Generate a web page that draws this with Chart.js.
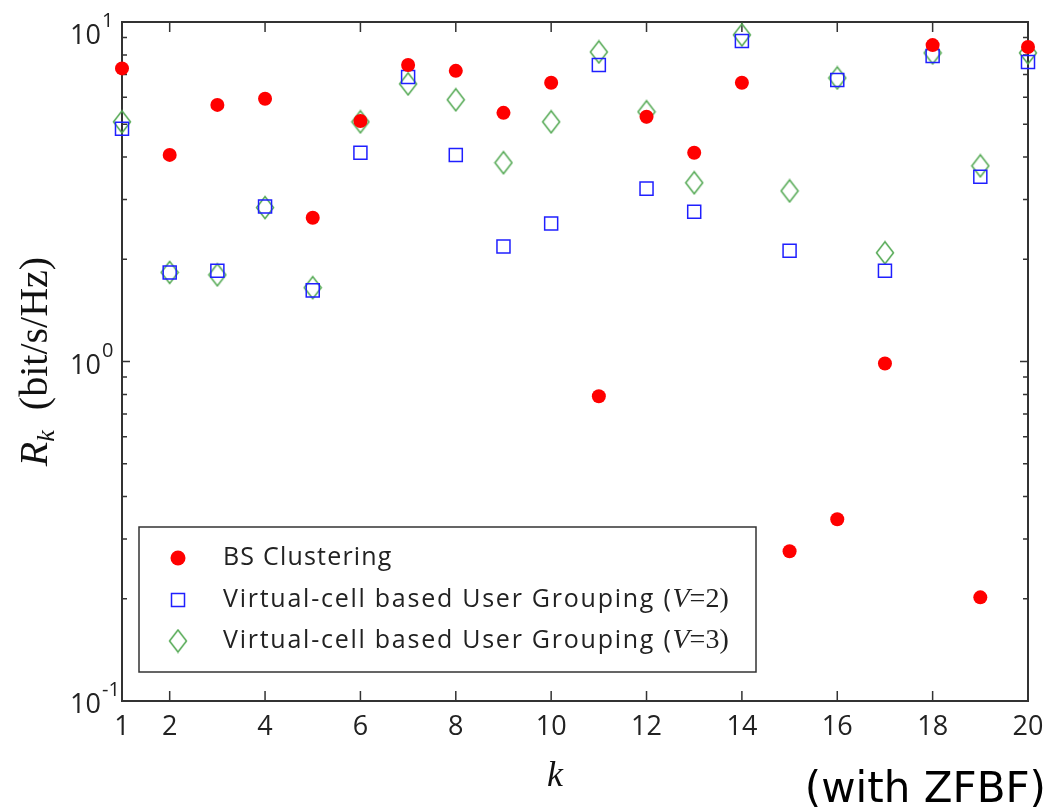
<!DOCTYPE html>
<html lang="en">
<head>
<meta charset="UTF-8">
<title>Rate per user (with ZFBF)</title>
<script src="https://cdn.jsdelivr.net/npm/chart.js"></script>
<style>
  body { margin: 0; background: #fff; }
  #wrap { width: 1062px; height: 812px; }
</style>
</head>
<body>
<div id="wrap"><canvas id="rateChart" width="1062" height="812"></canvas></div>
<script>
// user index k
const users = [1, 2, 3, 4, 5, 6, 7, 8, 9, 10, 11, 12, 13, 14, 15, 16, 17, 18, 19, 20];

// R_k (bit/s/Hz)
const bsClustering = [7.3, 4.06, 5.70, 5.94, 2.65, 5.11, 7.47, 7.18, 5.40, 6.62,
                      0.79, 5.26, 4.12, 6.62, 0.276, 0.343, 0.987, 8.55, 0.202, 8.44];
const virtualCellV2 = [4.85, 1.83, 1.85, 2.86, 1.62, 4.12, 6.89, 4.06, 2.18, 2.55,
                       7.47, 3.23, 2.76, 8.79, 2.12, 6.75, 1.85, 7.94, 3.50, 7.63];
const virtualCellV3 = [5.08, 1.83, 1.80, 2.84, 1.65, 5.08, 6.57, 5.90, 3.85, 5.08,
                       8.16, 5.44, 3.36, 9.16, 3.18, 6.84, 2.09, 8.11, 3.77, 8.11];

// axis ticks
const xTicks = [1, 2, 4, 6, 8, 10, 12, 14, 16, 18, 20];
const yMajorTicks = [0.1, 1, 10];
const yExponents = ['-1', '0', '1'];
const yMinorTicks = [0.2, 0.3, 0.4, 0.5, 0.6, 0.7, 0.8, 0.9, 2, 3, 4, 5, 6, 7, 8, 9];

const RED = '#ff0000', BLUE = '#1f1fff', GREEN = '#52a852', INK = '#333333';
const SANS = '"Open Sans", "DejaVu Sans", sans-serif';
const SERIF = '"Liberation Serif", "DejaVu Serif", serif';

// tall green diamond used as point style
function makeDiamond() {
  const c = document.createElement('canvas');
  c.width = 20; c.height = 25;
  const g = c.getContext('2d');
  g.strokeStyle = GREEN;
  g.lineWidth = 1.5;
  g.beginPath();
  g.moveTo(10, 1.5); g.lineTo(18.5, 12.5); g.lineTo(10, 23.5); g.lineTo(1.5, 12.5);
  g.closePath();
  g.stroke();
  return c;
}
const diamond = makeDiamond();

function pts(vals) {
  return users.map((k, i) => ({ x: k, y: vals[i] }));
}

// draw text pieces one after the other, returns end x
function runs(ctx, parts, x, y, measureOnly) {
  let cx = x;
  parts.forEach(p => {
    ctx.font = p.font;
    ctx.letterSpacing = p.spacing || '0px';
    if (!measureOnly) ctx.fillText(p.text, cx, y + (p.dy || 0));
    cx += ctx.measureText(p.text).width;
  });
  ctx.letterSpacing = '0px';
  return cx;
}

const axesPlugin = {
  id: 'axesPlugin',
  beforeDatasetsDraw(chart) {
    const { ctx, chartArea: a, scales: { x, y } } = chart;
    ctx.save();
    ctx.strokeStyle = INK;
    ctx.lineWidth = 2;
    ctx.strokeRect(a.left, a.top, a.right - a.left, a.bottom - a.top);

    ctx.lineWidth = 1.5;
    ctx.beginPath();
    xTicks.forEach(v => {
      const px = x.getPixelForValue(v);
      ctx.moveTo(px, a.bottom); ctx.lineTo(px, a.bottom - 10);
      ctx.moveTo(px, a.top); ctx.lineTo(px, a.top + 10);
    });
    yMajorTicks.forEach(v => {
      const py = y.getPixelForValue(v);
      ctx.moveTo(a.left, py); ctx.lineTo(a.left + 8, py);
      ctx.moveTo(a.right, py); ctx.lineTo(a.right - 8, py);
    });
    yMinorTicks.forEach(v => {
      const py = y.getPixelForValue(v);
      ctx.moveTo(a.left, py); ctx.lineTo(a.left + 5, py);
      ctx.moveTo(a.right, py); ctx.lineTo(a.right - 5, py);
    });
    ctx.stroke();

    // tick labels
    ctx.fillStyle = '#222';
    ctx.font = '27px ' + SANS;
    ctx.textAlign = 'center';
    ctx.textBaseline = 'alphabetic';
    xTicks.forEach(v => ctx.fillText(String(v), x.getPixelForValue(v), 735));

    ctx.textAlign = 'left';
    yMajorTicks.forEach((v, i) => {
      const py = y.getPixelForValue(v);
      const base = i === 2 ? 44 : py + 12;
      ctx.font = '27px ' + SANS;
      const w = ctx.measureText('10').width;
      ctx.fillText('10', 101 - w, base);
      ctx.font = '20px ' + SANS;
      ctx.fillText(yExponents[i], 102, base - 17);
    });

    // x title
    ctx.fillStyle = '#111';
    ctx.font = 'italic 36px ' + SERIF;
    ctx.textAlign = 'center';
    ctx.fillText('k', 555, 786);

    // y title, rotated
    ctx.save();
    ctx.translate(47, (a.top + a.bottom) / 2);
    ctx.rotate(-Math.PI / 2);
    ctx.textAlign = 'left';
    const title = [
      { text: 'R', font: 'italic 40px ' + SERIF },
      { text: 'k', font: 'italic 26px ' + SERIF, dy: 7 },
      { text: '  (bit/s/Hz)', font: '40px ' + SERIF }
    ];
    const tw = runs(ctx, title, 0, 0, true);
    runs(ctx, title, -tw / 2, 0);
    ctx.restore();

    // note in the corner
    ctx.font = '42px "DejaVu Sans", sans-serif';
    ctx.textAlign = 'right';
    ctx.fillStyle = '#000';
    ctx.fillText('(with ZFBF)', 1046, 802);
    ctx.restore();
  },
  afterDatasetsDraw(chart) {
    const { ctx } = chart;
    const ds = chart.data.datasets;
    ctx.save();
    ctx.fillStyle = '#fff';
    ctx.fillRect(139, 527, 617, 145);
    ctx.strokeStyle = INK;
    ctx.lineWidth = 1.5;
    ctx.strokeRect(139, 527, 617, 145);

    const rows = [558, 600, 641];
    const mx = 178, tx = 223;
    // markers
    ctx.fillStyle = RED;
    ctx.beginPath(); ctx.arc(mx, rows[0], 7.5, 0, Math.PI * 2); ctx.fill();
    ctx.strokeStyle = BLUE; ctx.lineWidth = 1.5;
    ctx.strokeRect(mx - 6.5, rows[1] - 6.5, 13, 13);
    ctx.drawImage(diamond, mx - diamond.width / 2, rows[2] - diamond.height / 2);

    ctx.fillStyle = '#222';
    ctx.textAlign = 'left';
    ctx.textBaseline = 'middle';
    const lf = '25px ' + SANS, sp = '1.75px';
    runs(ctx, [{ text: ds[0].label, font: lf, spacing: '1.2px' }], tx, rows[0]);
    [1, 2].forEach(i => {
      runs(ctx, [
        { text: 'Virtual-cell based User Grouping (', font: lf, spacing: sp },
        { text: 'V', font: 'italic 28px ' + SERIF },
        { text: '=' + (i + 1) + ')', font: '28px ' + SERIF }
      ], tx, rows[i]);
    });
    ctx.restore();
  }
};

new Chart(document.getElementById('rateChart'), {
  type: 'scatter',
  data: {
    datasets: [
      {
        label: 'BS Clustering',
        data: pts(bsClustering),
        pointStyle: 'circle',
        pointRadius: 7,
        backgroundColor: RED,
        borderColor: RED,
        borderWidth: 0,
        clip: false
      },
      {
        label: 'Virtual-cell based User Grouping (V=2)',
        data: pts(virtualCellV2),
        pointStyle: 'rect',
        pointRadius: 9.2,
        backgroundColor: 'rgba(0,0,0,0)',
        borderColor: BLUE,
        borderWidth: 1.5,
        clip: false
      },
      {
        label: 'Virtual-cell based User Grouping (V=3)',
        data: pts(virtualCellV3),
        pointStyle: diamond,
        pointRadius: 10,
        backgroundColor: 'rgba(0,0,0,0)',
        borderColor: GREEN,
        clip: false
      }
    ]
  },
  options: {
    responsive: false,
    animation: false,
    devicePixelRatio: 1,
    layout: { padding: { left: 122, right: 34, top: 22, bottom: 111 } },
    plugins: { legend: { display: false }, tooltip: { enabled: false } },
    scales: {
      x: { type: 'linear', min: 1, max: 20, display: false },
      y: { type: 'logarithmic', min: 0.1, max: 10, display: false }
    }
  },
  plugins: [axesPlugin]
});
</script>
</body>
</html>
